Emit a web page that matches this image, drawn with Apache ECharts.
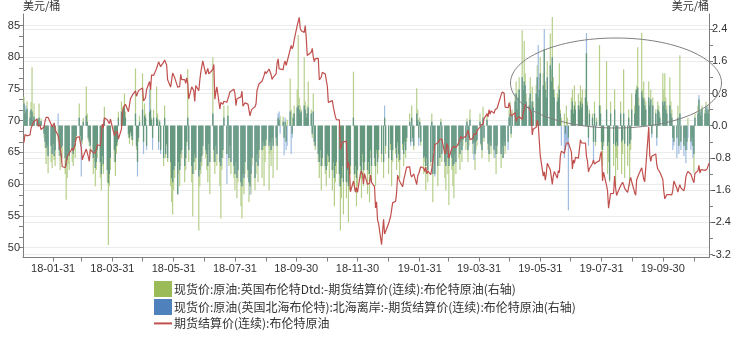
<!DOCTYPE html>
<html><head><meta charset="utf-8">
<script src="https://cdn.jsdelivr.net/npm/echarts@6/dist/echarts.min.js"></script>
<style>html,body{margin:0;padding:0;background:#fff}#c{width:738px;height:342px}</style>
</head><body><div id="c"></div>
<script>
// Weekly rows (Mon..Fri) starting Monday 2018-01-01; null = no settlement
const nameDtd = '现货价:原油:英国布伦特Dtd:-期货结算价(连续):布伦特原油(右轴)';
const nameFob = '现货价:原油(英国北海布伦特):北海离岸:-期货结算价(连续):布伦特原油(右轴)';
const nameFut = '期货结算价(连续):布伦特原油';

const futures = [
[null,66.57,67.84,68.07,67.62],[67.78,68.82,69.20,69.26,69.87],[70.26,69.15,69.38,69.31,68.61],[69.03,69.96,70.53,70.42,70.52],
[69.46,69.02,69.05,69.65,68.58],[67.62,66.86,65.51,64.81,62.79],[62.59,62.72,64.36,64.33,64.84],[65.67,65.25,65.42,66.39,67.31],
[67.50,66.63,65.78,63.83,64.37],[65.54,65.79,64.34,63.61,65.49],[64.95,64.64,64.89,65.12,66.21],[66.05,67.42,69.47,68.91,70.45],
[70.12,70.11,69.53,70.27,null],[67.64,68.12,68.02,68.33,67.11],[68.65,71.04,72.06,72.02,72.58],[71.42,71.58,73.48,73.78,74.06],
[74.71,73.86,74.00,74.74,74.64],[75.17,73.13,73.36,73.62,74.87],[76.17,74.85,77.21,77.47,77.12],[78.23,78.43,79.28,79.30,78.51],
[79.22,79.57,79.80,78.79,76.44],[75.30,75.39,77.50,77.59,76.79],[75.29,75.38,75.36,77.32,76.46],[76.46,75.88,76.74,75.94,73.44],
[75.34,75.08,74.74,73.05,75.55],[74.73,76.31,77.62,77.85,79.44],[77.30,77.76,78.24,77.39,77.11],[78.07,78.86,73.40,74.45,75.33],
[71.84,72.90,72.90,72.58,73.07],[72.91,73.44,73.93,74.54,74.29],[74.97,74.25,72.39,73.45,73.21],[73.75,74.65,72.28,72.07,72.81],
[72.61,72.46,70.76,71.43,71.83],[72.21,72.63,74.78,74.73,75.82],[76.21,76.31,77.14,77.77,77.42],[78.15,78.17,77.27,76.50,76.83],
[77.37,79.06,79.74,78.18,78.09],[78.05,79.03,79.40,78.70,78.80],[81.20,81.87,81.34,81.72,82.72],[84.98,84.80,86.29,84.58,84.16],
[83.91,85.00,83.09,80.26,80.43],[80.78,81.41,80.05,79.29,79.78],[79.83,76.44,76.17,76.89,77.62],[77.34,76.31,75.47,72.89,72.83],
[73.17,72.13,72.07,70.65,70.18],[70.12,65.47,66.12,66.62,66.76],[66.79,62.53,63.48,62.60,58.80],[60.48,60.21,58.76,59.51,58.71],
[61.69,62.08,61.56,60.06,61.67],[59.97,60.20,60.15,61.45,60.28],[59.61,56.26,57.24,54.35,53.82],[50.47,null,54.47,52.16,52.20],
[53.80,null,54.91,55.95,57.06],[57.33,58.72,61.44,61.68,60.48],[59.59,60.64,61.32,61.18,62.70],[62.74,61.50,61.14,61.09,61.64],
[59.93,61.32,61.65,61.89,62.75],[62.51,61.98,62.69,61.63,62.10],[61.51,62.42,63.61,64.57,66.25],[66.50,66.45,67.08,67.07,67.12],
[64.76,65.21,66.39,66.03,64.07],[65.67,65.86,65.99,66.30,65.74],[66.58,66.67,67.55,67.23,67.16],[67.54,67.61,68.50,67.86,67.03],
[67.21,67.97,67.83,67.82,68.39],[69.01,69.37,69.31,69.40,70.34],[71.10,70.61,71.73,71.02,71.55],[71.18,71.72,71.62,71.97,null],
[74.04,74.51,74.57,74.35,72.15],[72.04,72.80,72.18,70.75,70.85],[71.24,69.88,70.37,70.39,70.62],[70.23,71.24,71.77,72.62,72.21],
[71.97,72.18,71.18,67.76,68.69],[68.97,70.11,69.45,66.87,64.49],[61.28,61.97,60.63,61.67,63.29],[62.29,62.29,59.97,61.31,62.01],
[60.94,62.14,61.82,64.45,65.20],[64.86,65.05,66.49,66.55,66.55],[65.06,62.40,63.82,63.30,64.23],[64.11,64.16,67.01,66.52,66.72],
[66.48,64.35,63.66,61.93,62.47],[63.26,63.83,63.18,63.39,63.46],[63.71,64.72,65.17,60.50,61.89],[59.81,58.94,56.23,57.38,58.53],
[58.57,61.30,59.48,58.23,58.64],[59.74,60.03,60.30,59.92,59.34],[58.70,59.51,60.49,61.08,60.43],[58.66,58.26,60.70,60.95,61.54],
[62.59,62.38,60.81,60.38,60.22],[69.02,64.55,63.60,64.40,64.28],[64.77,63.10,62.39,62.08,61.91],[60.78,58.89,57.69,57.71,58.37],
[58.35,58.24,58.32,59.10,60.51],[59.35,58.74,59.42,59.91,59.42],[58.96,59.70,61.17,61.67,62.02],[61.57,61.59,60.61,60.23,61.69],
[62.13,62.96,61.74,62.29,62.51],[62.18,62.06,62.37,62.28,63.30]
];

const spreadDtd = [
[null,0.72,0.45,0.38,0.6],[0.35,0.58,1.45,0.3,0.55],[0.15,0.2,0.55,0.12,0.18],[-0.3,-0.55,-0.95,-0.7,-1.18],
[-0.9,-1.05,-0.6,-0.85,-1.0],[-0.4,-0.75,-1.1,-0.9,-0.8],[-1.2,-1.84,-1.3,-0.95,-1.1],[-0.9,-1.0,-0.6,-0.8,-0.35],
[0.55,-0.3,-0.4,-0.45,0.2],[0.97,0.3,-0.36,-0.5,-0.7],[-1.2,-0.9,-1.5,-1.1,-0.8],[-1.3,-1.6,-1.0,-1.2,0.47],
[-1.4,-2.96,-1.5,-1.1,null],[-0.9,-1.25,-0.7,-0.5,0.35],[0.6,0.45,0.5,0.8,0.35],[-0.3,-0.45,-0.2,-0.35,-0.5],
[1.42,-0.6,-0.9,-0.4,0.25],[1.3,-0.4,0.55,0.3,-0.5],[0.35,0.9,0.2,-0.3,0.4],[0.97,0.3,-0.4,0.15,-0.6],
[-1.0,0.5,-0.8,-0.5,-0.9],[-1.5,-1.9,-2.2,-1.6,-1.3],[-1.7,-1.2,-1.5,-1.0,-0.8],[-1.4,-1.1,-0.5,1.4,-0.9],
[-1.4,-2.25,-1.2,-0.9,-1.1],[-2.6,-1.5,-1.2,-1.0,-0.7],[-0.8,-1.1,-1.4,-0.6,-1.7],[1.7,-0.9,-1.2,-0.7,-1.0],
[-1.5,-2.3,-1.1,-0.8,0.5],[-0.7,0.5,-1.0,-0.6,-1.2],[-1.3,-1.6,-1.1,-1.8,-1.4],[-2.0,-2.3,-1.5,-1.7,-1.2],
[-1.3,-1.9,-1.5,-1.7,-1.0],[-1.6,-1.2,-0.9,-1.4,-0.8],[-1.3,-0.6,-1.5,-0.9,-0.5],[-1.6,-0.7,-1.0,-0.4,-1.3],
[-0.5,-1.1,0.2,0.15,0.25],[0.22,-0.3,0.1,-0.4,0.15],[1.17,0.4,-0.2,0.3,0.5],[0.9,2.25,0.7,0.5,0.4],
[1.7,0.6,0.3,0.5,1.1],[0.4,-0.3,0.8,-0.5,-0.6],[-0.9,-1.3,-0.8,-1.6,-1.0],[-1.2,-1.5,-1.0,-0.9,-1.3],
[-1.6,-1.1,-2.0,-1.4,-1.2],[-1.5,-2.6,-1.8,-1.3,-2.2],[-1.8,-1.4,-2.4,-1.6,-1.2],[1.34,-1.6,-1.2,-2.0,-1.5],
[-1.3,-1.8,-0.9,-1.5,-1.1],[-1.7,-1.2,-1.9,-0.8,-1.4],[-1.0,-1.5,-0.7,-1.2,-0.8],[-0.9,null,-1.3,0.2,-0.7],
[-1.2,null,-0.6,-1.5,-0.9],[-0.7,-1.1,-0.5,-0.9,-1.3],[-0.6,-1.0,-0.5,-0.8,-0.4],[0.3,-0.4,0.5,-0.3,-0.6],
[0.93,0.4,-0.3,0.2,-0.5],[-1.2,-0.9,-1.6,-1.0,-1.4],[-1.0,0.3,-1.9,-0.8,-1.2],[-1.5,-0.7,-1.0,0.18,-0.9],
[-1.3,-1.6,-0.9,-1.2,-1.97],[-1.1,-1.5,-1.8,-0.9,-1.2],[-0.8,-1.1,-0.6,-0.9,-0.5],[-0.6,0.18,-0.9,-0.5,0.4],
[-0.7,-0.4,-1.1,-0.6,-0.5],[0.3,-0.5,-0.8,0.47,-0.4],[0.3,-0.6,-0.9,-0.5,-0.7],[-0.8,-0.5,-1.2,-0.7,null],
[-1.05,-0.6,-0.8,-0.5,-0.7],[-0.4,0.39,0.6,-0.3,0.4],[0.8,1.1,0.5,0.9,1.2],[2.37,1.0,2.1,1.3,0.8],
[0.7,1.2,0.5,0.97,0.6],[1.0,1.5,0.7,1.2,1.7],[1.3,1.9,1.1,0.9,1.6],[2.29,1.4,2.7,1.2,0.9],
[0.8,1.0,1.55,0.4,0.2],[0.3,-0.2,0.5,0.2,-0.3],[0.7,0.9,0.4,1.0,0.6],[0.8,0.5,1.0,0.7,0.9],
[0.9,1.8,0.6,-0.3,0.4],[0.3,-0.4,0.6,-0.5,0.2],[2.0,0.5,-0.6,-1.0,-0.5],[1.6,-1.2,-0.9,-1.4,0.6],
[-1.0,0.9,-1.5,-0.8,-1.1],[0.6,-1.2,-0.7,1.4,-1.3],[-1.0,0.4,-1.5,-0.6,0.8],[0.5,0.9,1.0,1.95,0.7],
[2.3,0.9,1.1,0.7,0.6],[1.1,0.6,0.9,-0.2,0.7],[0.4,-0.3,0.6,0.5,0.3],[1.3,0.9,1.3,0.7,0.5],
[1.2,0.6,0.4,-0.3,-0.4],[-0.3,0.5,-0.5,1.75,-0.4],[-0.5,-0.3,-0.6,-0.4,0.2],[-0.4,-0.3,-0.5,-1.17,0.3],
[0.5,0.65,0.4,0.3,0.5],[0.4,0.6,0.3,0.5,0.35]
];

const spreadFob = [
[null,0.55,0.3,0.5,0.42],[0.2,0.4,0.35,0.15,0.22],[0.1,0.15,0.2,0.08,0.12],[-0.2,-0.4,-0.55,-0.5,-0.75],
[-0.5,-0.7,-0.45,-0.75,-0.6],[0.3,-0.6,-0.75,-0.55,-0.5],[-0.8,-1.0,-0.85,-0.7,-0.75],[-0.6,-0.7,-0.4,-0.5,-0.25],
[0.2,-0.25,-1.26,-0.35,0.1],[0.25,0.1,-0.3,-0.4,-0.5],[-0.8,-0.7,-1.05,-0.9,-0.6],[-0.9,-1.2,-0.75,-0.95,0.15],
[-1.1,-1.43,-1.2,-0.8,null],[-0.6,-0.9,-0.5,-0.4,0.2],[0.35,0.3,0.4,0.45,0.2],[-0.2,-0.3,-0.15,-0.25,-0.35],
[0.3,-0.5,-1.26,-0.3,0.1],[0.4,-0.7,0.25,0.2,-0.6],[0.9,0.4,0.15,-0.6,0.2],[0.2,0.15,-0.6,0.1,-0.7],
[-0.8,0.2,-0.7,-0.45,-0.8],[-0.9,-1.3,-1.4,-1.1,-1.0],[-1.7,-0.9,-1.1,-0.7,-0.6],[-1.0,-0.8,-0.4,0.2,-0.6],
[-1.0,-1.2,-0.9,-0.7,-0.8],[-1.26,-1.1,-0.9,-0.75,-0.5],[-0.6,-0.7,-1.0,-0.45,-0.9],[0.3,-0.6,-0.9,-0.5,-0.7],
[-0.9,-1.0,-0.8,-0.6,0.2],[-1.45,0.25,-0.8,-0.5,-0.9],[-1.0,-1.2,-0.9,-1.3,-1.1],[-1.4,-1.5,-1.2,-1.3,-0.9],
[-1.1,-1.4,-1.72,-1.2,-0.8],[-1.3,-0.9,-0.7,-1.0,-0.6],[-0.6,-0.4,-0.5,-0.5,-0.35],[-0.5,-0.4,-0.6,-0.3,-0.5],
[-0.3,-0.5,0.3,0.35,-0.2],[0.1,-0.73,0.2,-0.6,-0.5],[0.35,-0.7,-0.3,0.2,0.3],[0.45,0.5,0.4,0.3,0.35],
[0.5,0.4,0.2,0.3,0.45],[0.3,-0.2,0.35,-0.4,-0.5],[-0.7,-0.9,-0.6,-1.0,-0.8],[-1.0,-1.1,-0.7,-0.75,-0.9],
[-1.1,-0.9,-1.3,-1.0,-0.9],[-1.2,-1.5,-1.3,-1.0,-1.4],[-1.4,-1.1,-1.5,-1.2,-1.0],[0.2,-1.2,-1.0,-1.3,-1.1],
[-1.0,-1.2,-0.7,-1.1,-0.9],[-1.1,-0.9,-1.2,-0.6,-1.0],[-0.8,-1.0,-0.6,-0.9,-0.6],[-0.7,null,-0.9,0.5,-0.5],
[-0.8,null,-0.45,-0.85,-0.6],[-0.55,-0.8,-0.4,-0.7,-0.85],[-0.45,-0.7,-0.4,-0.6,-0.3],[0.1,-0.5,0.2,-0.4,-0.5],
[0.3,0.15,-0.5,0.1,-0.4],[-0.8,-0.75,-1.0,-0.8,-1.1],[-0.9,0.1,-1.2,-0.6,-1.26],[-1.0,-0.4,-0.8,0.1,-0.7],
[-0.9,-1.0,-0.7,-0.8,-1.0],[-0.8,-1.0,-0.95,-0.7,-0.9],[-0.5,-0.7,-0.4,-0.6,-0.35],[-0.4,0.1,-0.6,-0.3,0.15],
[-0.45,-0.85,-0.7,-0.4,-0.35],[0.1,-0.45,-0.6,0.2,-0.3],[0.15,-0.45,-0.7,-0.4,-0.5],[-0.6,-0.8,-0.7,-0.5,null],
[-0.7,-0.5,-0.8,-0.4,-0.5],[-0.6,0.2,0.3,-0.2,0.25],[0.6,0.8,0.4,0.7,0.9],[1.2,0.9,1.1,1.0,0.6],
[0.5,0.8,0.35,0.6,0.45],[0.8,1.2,2.0,0.9,1.3],[1.0,2.4,0.9,0.7,1.2],[1.5,1.1,1.7,0.9,0.7],
[0.6,0.7,0.9,0.3,-0.5],[-0.8,-0.6,-0.4,-0.5,-2.1],[0.4,0.6,0.3,0.5,0.4],[0.5,0.4,0.6,0.45,0.55],
[0.7,2.3,0.5,-0.5,0.3],[0.2,-0.85,0.3,-0.4,0.1],[0.5,0.3,-0.4,-0.6,-0.4],[0.4,-0.5,-0.4,-1.35,0.3],
[-0.45,0.4,-0.5,-0.4,-0.5],[0.3,-0.4,-0.35,0.3,-0.45],[-0.5,0.2,-0.45,-0.35,0.4],[0.3,0.8,0.9,0.95,0.5],
[0.85,0.7,0.65,0.5,0.4],[0.7,0.5,0.65,-0.3,0.5],[0.3,-0.5,0.4,0.35,0.2],[0.6,0.5,0.6,0.4,0.3],
[0.5,0.3,0.2,-0.6,-0.5],[-0.8,0.2,-0.7,0.3,-0.6],[-0.75,-0.5,-0.93,-0.6,-0.3],[-0.6,-0.5,-0.8,-0.7,0.2],
[0.3,0.76,0.35,0.25,0.4],[0.3,0.45,0.5,0.4,0.3]
];

const xLabelDates = ['2018-01-31','2018-03-31','2018-05-31','2018-07-31','2018-09-30','2018-11-30',
  '2019-01-31','2019-03-31','2019-05-31','2019-07-31','2019-09-30'];
const xTickDates = ['2018-01-31','2018-02-28','2018-03-31','2018-04-30','2018-05-31','2018-06-30','2018-07-31',
  '2018-08-31','2018-09-30','2018-10-31','2018-11-30','2018-12-31','2019-01-31','2019-02-28','2019-03-31',
  '2019-04-30','2019-05-31','2019-06-30','2019-07-31','2019-08-31','2019-09-30','2019-10-31'];
const leftLabels = [50,55,60,65,70,75,80,85];
const leftMinor = [51.667,53.333,56.667,58.333,61.667,63.333,66.667,68.333,71.667,73.333,76.667,78.333,81.667,83.333];
const rightLabels = [-3.2,-2.4,-1.6,-0.8,0,0.8,1.6,2.4];
const rightMinor = [-2.8,-2.0,-1.2,-0.4,0.4,1.2,2.0];

// x coordinate = calendar day number counted from 2018-01-01
const DAY=86400000, T0=Date.UTC(2018,0,1);
function dayNum(s){const p=s.split('-');return Math.round((Date.UTC(+p[0],+p[1]-1,+p[2])-T0)/DAY);}
function fmt(v){const d=new Date(T0+Math.round(v)*DAY);const p=n=>String(n).padStart(2,'0');
  return p(d.getUTCFullYear()%100)+'-'+p(d.getUTCMonth()+1)+'-'+p(d.getUTCDate());}

// Both spreads drawn from zero; the part shared by both (same sign) is drawn darker on top
const lineData=[], gData=[], bData=[], ovData=[];
for(let w=0;w<futures.length;w++){
  for(let d=0;d<5;d++){
    const x=w*7+d;
    const f=futures[w][d];
    if(f!=null) lineData.push([x,f]);
    const g=spreadDtd[w][d], b=spreadFob[w][d];
    if(g==null||b==null) continue;
    gData.push([x,g]); bData.push([x,b]);
    if(g*b>0) ovData.push([x,(g>0?1:-1)*Math.min(Math.abs(g),Math.abs(b))]);
  }
}

const FONT='"Liberation Sans","Noto Sans CJK SC",sans-serif';
const AX='#7f7f7f';
const LMIN=48.455, LMAX=86.81, RMIN=-3.27, RMAX=2.772;
const BW=1.2;

const chart=echarts.init(document.getElementById('c'),null,{renderer:'canvas'});
chart.setOption({
  animation:false,
  backgroundColor:'#fff',
  textStyle:{fontFamily:FONT},
  grid:{left:23,right:29,top:14,bottom:84.5,containLabel:false},
  legend:{
    orient:'vertical',left:148,top:276,itemWidth:18,itemHeight:16,itemGap:2,
    textStyle:{fontSize:12,color:'#333',padding:[0,0,0,-3],fontFamily:'"Noto Sans CJK SC","Liberation Sans",sans-serif'},
    selectedMode:false,
    data:[
      {name:nameDtd,icon:'rect',itemStyle:{color:'#9bbb59'}},
      {name:nameFob,icon:'rect',itemStyle:{color:'#4f81bd'}},
      {name:nameFut,itemStyle:{opacity:0}}
    ]
  },
  xAxis:{
    type:'value',min:0,max:dayNum('2019-11-15'),
    axisLine:{onZero:false,lineStyle:{color:AX}},
    axisTick:{show:true,customValues:xTickDates.map(dayNum),length:4,lineStyle:{color:AX}},
    axisLabel:{customValues:xLabelDates.map(dayNum),formatter:fmt,fontSize:11,color:'#333',margin:6,hideOverlap:false},
    splitLine:{show:false}
  },
  yAxis:[
    {type:'value',position:'left',min:LMIN,max:LMAX,name:'美元/桶',nameLocation:'end',nameGap:3,
     nameTextStyle:{align:'left',fontSize:11,color:'#333',fontFamily:'"Noto Sans CJK SC",sans-serif'},
     axisLine:{show:true,lineStyle:{color:AX}},
     axisTick:{show:true,customValues:leftLabels,length:4,lineStyle:{color:AX}},
     axisLabel:{customValues:leftLabels,fontSize:11,color:'#333',margin:3},
     splitLine:{show:true,lineStyle:{color:'#ececec',width:1}}},
    {type:'value',position:'right',min:RMIN,max:RMAX,name:'美元/桶',nameLocation:'end',nameGap:3,
     nameTextStyle:{align:'right',fontSize:11,color:'#333',fontFamily:'"Noto Sans CJK SC",sans-serif'},
     axisLine:{show:true,lineStyle:{color:AX}},
     axisTick:{show:true,customValues:rightLabels,length:4,lineStyle:{color:AX}},
     axisLabel:{customValues:rightLabels,fontSize:11,color:'#333',margin:3,formatter:v=>Number(v).toFixed(1)},
     splitLine:{show:true,lineStyle:{color:'#ececec',width:1}}},
    {type:'value',position:'left',min:LMIN,max:LMAX,
     axisLine:{show:false},axisLabel:{show:false},splitLine:{show:false},
     axisTick:{show:true,customValues:leftMinor,length:4,lineStyle:{color:AX}}},
    {type:'value',position:'right',min:RMIN,max:RMAX,
     axisLine:{show:false},axisLabel:{show:false},splitLine:{show:false},
     axisTick:{show:true,customValues:rightMinor,length:4,lineStyle:{color:AX}}}
  ],
  series:[
    {name:nameDtd,type:'bar',yAxisIndex:1,data:gData,barWidth:BW,barGap:'-100%',itemStyle:{color:'#b5cf8a'},z:2},
    {name:nameFob,type:'bar',yAxisIndex:1,data:bData,barWidth:BW,barGap:'-100%',itemStyle:{color:'#9fbce1'},z:2},
    {name:'重叠',type:'bar',yAxisIndex:1,data:ovData,barWidth:BW,barGap:'-100%',itemStyle:{color:'#64977c'},z:2},
    {name:nameFut,type:'line',yAxisIndex:0,data:lineData,symbol:'none',showSymbol:false,
     lineStyle:{color:'#c0504d',width:1.2},itemStyle:{color:'#c0504d'},z:5}
  ],
  graphic:[{type:'ellipse',shape:{cx:616,cy:83,rx:105.5,ry:45},style:{fill:null,stroke:'#7f7f7f',lineWidth:1},z:100}]
});
</script></body></html>
